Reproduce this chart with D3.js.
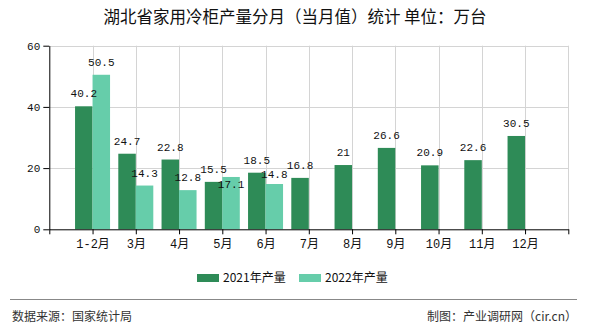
<!DOCTYPE html>
<html>
<head>
<meta charset="utf-8">
<script src="https://cdn.jsdelivr.net/npm/d3@7"></script>
<style>
html,body{margin:0;padding:0;background:#fff;}
svg{display:block;}
</style>
</head>
<body>
<svg id="chart" width="590" height="330"></svg>
<script>
const categories = ["1-2月","3月","4月","5月","6月","7月","8月","9月","10月","11月","12月"];
const series2021 = [40.2,24.7,22.8,15.5,18.5,16.8,21,26.6,20.9,22.6,30.5];
const series2022 = [50.5,14.3,12.8,17.1,14.8,null,null,null,null,null,null];
const seriesNames = ["2021年产量","2022年产量"];
const yTicks = [0,20,40,60];
const titleText = "湖北省家用冷柜产量分月（当月值）统计 单位：万台";
const sourceText = "数据来源：国家统计局";
const creditText = "制图：产业调研网（cir.cn）";

const colors = ["#2E8B57","#66CDAA"];
const monoFont = "'Liberation Mono','Noto Sans CJK SC',monospace";
const cjkFont = "'Noto Sans CJK SC','Noto Sans',sans-serif";

const svg = d3.select("#chart");
const L = 49.3, R = 568.3, T = 45.7, B = 229.3;

const x = d3.scaleLinear().domain([0, categories.length + 1]).range([L, R]);
const y = d3.scaleLinear().domain([0, 60]).range([B, T]);
const bw = 17.5;

// title
svg.append("text").attr("x", 295).attr("y", 23).attr("text-anchor","middle")
  .style("font-family", cjkFont).style("font-size","16.5px").attr("fill","#111")
  .text(titleText);

// grid
const grid = svg.append("g").attr("stroke","#d4d4d4").attr("stroke-width",1);
yTicks.filter(v => v > 0).forEach(v => {
  grid.append("line").attr("x1", L).attr("x2", R).attr("y1", Math.round(y(v))+0.5).attr("y2", Math.round(y(v))+0.5);
});
d3.range(1, categories.length + 2).forEach(i => {
  grid.append("line").attr("x1", Math.round(x(i))+0.5).attr("x2", Math.round(x(i))+0.5).attr("y1", y(60)).attr("y2", y(0));
});

// bars
const g = svg.append("g");
const rows = categories.map((c,i) => ({c, i, v: [series2021[i], series2022[i]]}));
rows.forEach(r => {
  r.v.forEach((v, s) => {
    if (v == null) return;
    const cx = x(r.i + 1);
    const x0 = s === 0 ? cx - bw : cx;
    g.append("rect").attr("x", x0).attr("y", y(v)).attr("width", bw).attr("height", y(0) - y(v))
      .attr("fill", colors[s]);
  });
});

// value labels
const labelShift = {"3|1": 20, "4|1": 3};
const lg = svg.append("g").style("font-family", monoFont).style("font-size","11px").attr("fill","#111");
rows.forEach(r => {
  r.v.forEach((v, s) => {
    if (v == null) return;
    const cx = x(r.i + 1);
    const mid = s === 0 ? cx - bw/2 : cx + bw/2;
    const shift = labelShift[r.i + "|" + s] || 0;
    lg.append("text").attr("x", mid).attr("y", y(v) - 9 + shift).attr("text-anchor","middle").text(String(v));
  });
});

// axes
const yAxis = d3.axisLeft(y).tickValues(yTicks).tickSize(6).tickSizeOuter(0).tickPadding(3);
const ya = svg.append("g").attr("transform", `translate(${L},0)`).call(yAxis);
ya.selectAll("text").style("font-family", monoFont).style("font-size","11px").attr("fill","#111");
ya.select(".domain").attr("stroke","#000");
ya.selectAll(".tick line").attr("stroke","#000");

const xAxis = d3.axisBottom(x).tickValues(d3.range(0, categories.length + 2)).tickSize(5).tickSizeOuter(0).tickPadding(5)
  .tickFormat(i => (i >= 1 && i <= categories.length) ? categories[i-1] : "");
const xa = svg.append("g").attr("transform", `translate(0,${B})`).call(xAxis);
xa.selectAll("text").style("font-family", monoFont).style("font-size","12px").attr("fill","#111");
xa.select(".domain").attr("stroke","#000");
xa.selectAll(".tick line").attr("stroke","#000");

// legend
const legendX = [197, 299];
seriesNames.forEach((n, s) => {
  svg.append("rect").attr("x", legendX[s]).attr("y", 274).attr("width", 22).attr("height", 8).attr("fill", colors[s]);
  svg.append("text").attr("x", legendX[s] + 26).attr("y", 282).style("font-family", cjkFont).style("font-size","12px")
    .attr("fill","#111").text(n);
});

// footer
svg.append("line").attr("x1", 10).attr("x2", 577).attr("y1", 299.5).attr("y2", 299.5).attr("stroke","#888").attr("stroke-width",1);
svg.append("text").attr("x", 12).attr("y", 321).style("font-family", cjkFont).style("font-size","12px").attr("fill","#333").text(sourceText);
svg.append("text").attr("x", 577).attr("y", 321).attr("text-anchor","end").style("font-family", cjkFont).style("font-size","12px").attr("fill","#333").text(creditText);
</script>
</body>
</html>
